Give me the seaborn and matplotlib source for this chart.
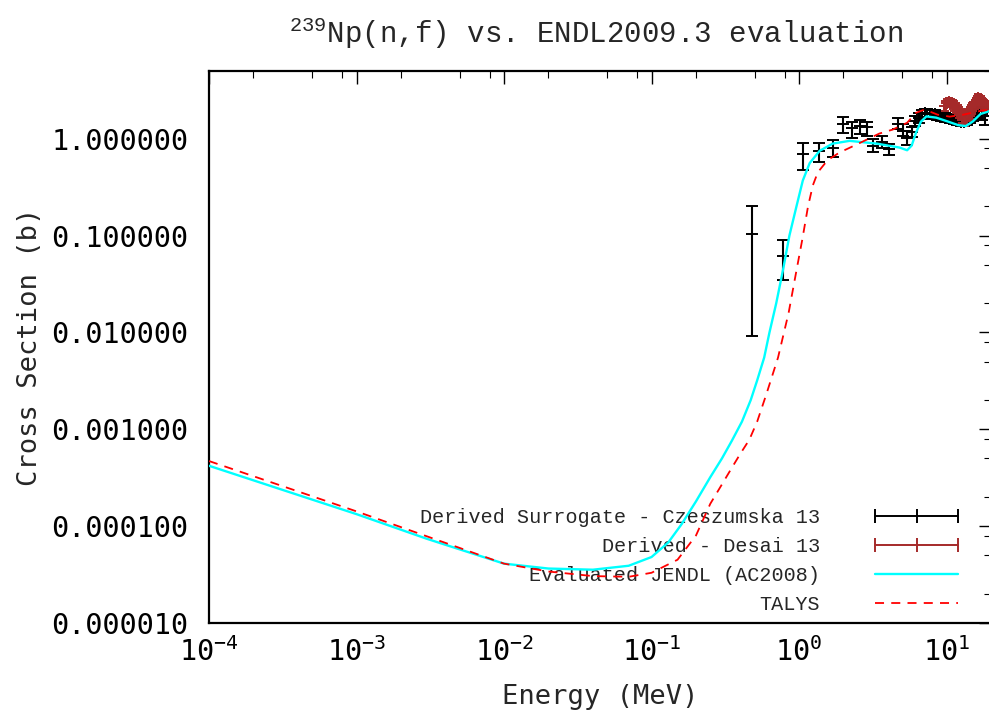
import numpy as np
import pandas as pd
import matplotlib
matplotlib.use("Agg")
import matplotlib.pyplot as plt
import seaborn as sns
from matplotlib.lines import Line2D
from matplotlib.ticker import LogLocator, FuncFormatter, NullFormatter

# evaluated JENDL (AC2008) curve
jendl_e = [1e-4, 1e-3, 3e-3, 1e-2, 0.02, 0.04, 0.07, 0.1, 0.13, 0.16, 0.2, 0.25,
           0.3, 0.35, 0.41, 0.47, 0.52, 0.58, 0.63, 0.7, 0.78, 0.86, 0.96, 1.06,
           1.18, 1.38, 1.69, 2.2, 3.36, 4.8, 5.4, 5.8, 6.2, 6.7, 7.3, 8.5, 10.0,
           12.0, 13.5, 15.0, 17.0, 20.0]
jendl_xs = [4.2e-4, 1.33e-4, 7.4e-5, 4.1e-5, 3.65e-5, 3.55e-5, 3.9e-5, 4.8e-5, 6.8e-5,
            1.05e-4, 1.8e-4, 3.2e-4, 5.0e-4, 7.6e-4, 1.2e-3, 2.0e-3, 3.2e-3, 5.5e-3,
            1.0e-2, 2.0e-2, 4.5e-2, 0.1, 0.2, 0.37, 0.56, 0.75, 0.89, 0.95, 0.89,
            0.81, 0.76, 0.85, 1.15, 1.5, 1.7, 1.65, 1.52, 1.38, 1.35, 1.5, 1.8, 1.95]

# TALYS curve
talys_e = [1e-4, 1e-3, 1e-2, 0.02, 0.04, 0.07, 0.1, 0.15, 0.2, 0.25, 0.3, 0.35,
           0.4, 0.46, 0.52, 0.6, 0.72, 0.85, 0.95, 1.05, 1.15, 1.24, 1.34, 1.56,
           1.88, 2.45, 3.5, 4.3, 5.4, 6.2, 7.1, 8.7, 10.5, 13.0, 17.0, 20.0]
talys_xs = [4.7e-4, 1.42e-4, 4.1e-5, 3.4e-5, 3.05e-5, 3.0e-5, 3.3e-5, 4.5e-5, 8.0e-5,
            1.7e-4, 2.7e-4, 4.0e-4, 5.6e-4, 7.8e-4, 1.2e-3, 2.3e-3, 5.5e-3, 1.6e-2,
            4.0e-2, 9.0e-2, 0.2, 0.33, 0.45, 0.6, 0.72, 0.87, 1.13, 1.24, 1.46,
            1.85, 2.0, 1.77, 1.69, 1.77, 1.94, 2.0]

# Derived Surrogate - Czeszumska 13 (value, lower and upper error bound)
cz_e = [0.48, 0.775, 1.07, 1.36, 1.70, 1.97, 2.27, 2.57, 2.87, 3.15,
        3.63, 4.05, 4.66, 5.03, 5.36, 5.79, 6.1, 6.5, 6.8, 7.1,
        7.4, 7.7, 8.0, 8.3, 8.6, 8.9, 9.2, 9.5, 9.8, 10.1,
        10.5, 10.9, 11.3, 11.7, 12.1, 12.6, 13.1, 13.7, 14.3, 15.0,
        15.8, 16.6, 17.5, 18.3]
cz_xs = [0.105, 0.062, 0.70, 0.74, 0.80, 1.43, 1.30, 1.36, 1.33, 0.85,
         0.93, 0.78, 1.43, 1.21, 1.02, 1.18, 1.53, 1.65, 1.78, 1.85,
         1.82, 1.78, 1.82, 1.78, 1.74, 1.72, 1.70, 1.68, 1.66, 1.64,
         1.62, 1.60, 1.57, 1.55, 1.52, 1.50, 1.50, 1.55, 1.62, 1.70,
         1.76, 1.82, 1.80, 1.70]
cz_lo = [0.0091, 0.035, 0.48, 0.57, 0.64, 1.15, 1.02, 1.13, 1.07, 0.73,
         0.81, 0.68, 1.27, 1.07, 0.87, 1.05, 1.35, 1.45, 1.60, 1.67,
         1.64, 1.60, 1.64, 1.60, 1.57, 1.55, 1.53, 1.51, 1.49, 1.47,
         1.46, 1.44, 1.41, 1.40, 1.37, 1.35, 1.35, 1.39, 1.46, 1.53,
         1.58, 1.62, 1.55, 1.40]
cz_hi = [0.204, 0.089, 0.90, 0.91, 0.98, 1.69, 1.50, 1.57, 1.50, 1.00,
         1.07, 0.89, 1.65, 1.43, 1.21, 1.33, 1.72, 1.85, 1.96, 2.04,
         2.00, 1.96, 2.00, 1.96, 1.91, 1.89, 1.87, 1.85, 1.83, 1.80,
         1.78, 1.76, 1.73, 1.71, 1.67, 1.65, 1.65, 1.71, 1.78, 1.87,
         1.94, 2.02, 2.10, 2.05]

# Derived - Desai 13
de_e = [9.8, 10.1, 10.4, 10.7, 11.0, 11.3, 11.6, 11.9, 12.2, 12.5,
        12.8, 13.1, 13.4, 13.7, 14.0, 14.3, 14.6, 14.9, 15.2, 15.5,
        15.8, 16.1, 16.4, 16.7, 17.0, 17.3, 17.6, 18.0, 18.5, 19.0]
de_xs = [2.20, 2.35, 2.40, 2.35, 2.28, 2.20, 2.10, 2.00, 1.90, 1.80,
         1.70, 1.62, 1.60, 1.66, 1.76, 1.86, 1.96, 2.06, 2.16, 2.28,
         2.40, 2.52, 2.62, 2.60, 2.50, 2.40, 2.32, 2.25, 2.20, 2.15]
de_dx = 0.15
de_dy = 0.25

labels = ["Derived Surrogate - Czeszumska 13", "Derived - Desai 13",
          "Evaluated JENDL (AC2008)", "TALYS"]

sns.set_theme(style="white")
plt.rcParams["font.family"] = ["DejaVu Sans Mono"]

fig = plt.figure(figsize=(9.89, 7.17), dpi=100)
ax = fig.add_axes([209 / 989, 1 - 623 / 717, 782 / 989, 552 / 717])

cz_e_arr = np.array(cz_e)
cz_xs_arr = np.array(cz_xs)
yerr = [cz_xs_arr - np.array(cz_lo), np.array(cz_hi) - cz_xs_arr]
ax.errorbar(cz_e_arr, cz_xs_arr, yerr=yerr, fmt="+", color="black", ms=8, mew=1.4,
            elinewidth=1.5, capsize=4, capthick=1.5, zorder=3)
ax.errorbar(de_e, de_xs, xerr=de_dx, yerr=de_dy, fmt="+", color="#a52a2a", ms=8,
            mew=1.4, elinewidth=1.4, capsize=3, capthick=1.4, zorder=4)

jendl = pd.DataFrame({"E": jendl_e, "xs": jendl_xs})
talys = pd.DataFrame({"E": talys_e, "xs": talys_xs})
sns.lineplot(data=jendl, x="E", y="xs", ax=ax, color="#00ffff", lw=1.7, zorder=5)
sns.lineplot(data=talys, x="E", y="xs", ax=ax, color="#ff0000", lw=1.3,
             dashes=False, linestyle=(0, (5, 4)), zorder=6)

ax.set_xscale("log")
ax.set_yscale("log")
ax.set_xlim(1e-4, 20)
ax.set_ylim(1e-5, 5)

ax.xaxis.set_major_locator(LogLocator(base=10, numticks=20))
ax.xaxis.set_minor_locator(LogLocator(base=10, subs=(2, 5, 8), numticks=20))
ax.yaxis.set_major_locator(LogLocator(base=10, numticks=20))
ax.yaxis.set_minor_locator(LogLocator(base=10, subs=(2, 5, 8), numticks=20))
ax.xaxis.set_major_formatter(FuncFormatter(
    lambda v, p: r"$\mathregular{10^{%d}}$" % int(round(np.log10(v)))))
ax.yaxis.set_major_formatter(FuncFormatter(lambda v, p: f"{v:f}"))
ax.xaxis.set_minor_formatter(NullFormatter())
ax.yaxis.set_minor_formatter(NullFormatter())

ax.tick_params(which="both", direction="in", top=True, right=True, colors="black",
               labelsize=20.5)
ax.tick_params(which="major", length=9, width=1.0)
ax.tick_params(which="minor", length=5, width=0.8)
ax.tick_params(axis="y", pad=15)
ax.tick_params(axis="x", pad=10)

for s in ax.spines.values():
    s.set_color("black")
    s.set_linewidth(1.6)

ax.set_xlabel("Energy (MeV)", fontsize=19.5)
ax.set_ylabel("Cross Section (b)", fontsize=19.5)
ax.xaxis.label.set_va("center")
ax.yaxis.label.set_va("center")
ax.xaxis.set_label_coords(0.5, (623 - 697) / 552)
ax.yaxis.set_label_coords((30 - 209) / 782, 0.5)

fig.text(596 / 989, 1 - 33 / 717,
         r"$\mathregular{^{239}}$Np(n,f) vs. ENDL2009.3 evaluation",
         ha="center", va="center", fontsize=21, family="Liberation Mono")

handles = [
    Line2D([], [], color="black", lw=1.4, marker="|", ms=10, mew=1.4),
    Line2D([], [], color="#a52a2a", lw=1.4, marker="|", ms=10, mew=1.4),
    Line2D([], [], color="#00ffff", lw=1.7),
    Line2D([], [], color="#ff0000", lw=1.3, linestyle=(0, (5, 4))),
]
leg = ax.legend(handles, labels, loc="lower right",
                bbox_to_anchor=((964 - 209) / 782, 0.016), frameon=False,
                markerfirst=False, numpoints=3, handlelength=4.7, handletextpad=2.45,
                labelspacing=0.5, borderpad=0, borderaxespad=0,
                prop={"family": "Liberation Mono", "size": 14.5})
leg.set_zorder(1)

fig.savefig("out.png", dpi=100)
